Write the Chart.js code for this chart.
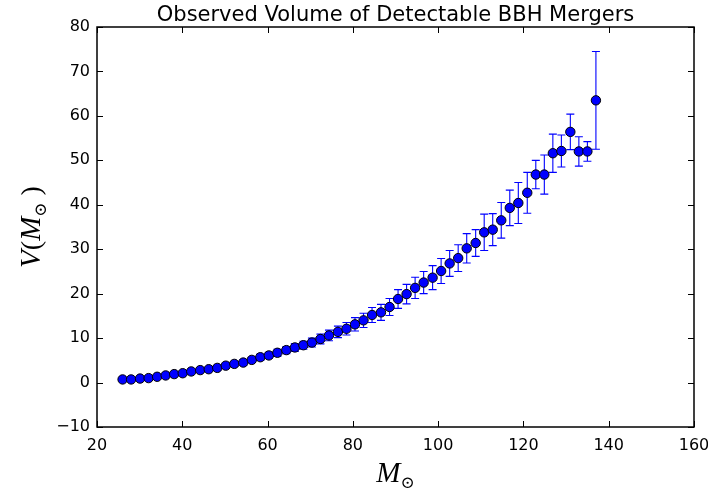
<!DOCTYPE html>
<html>
<head>
<meta charset="utf-8">
<script src="https://cdn.jsdelivr.net/npm/chart.js@4.4.1/dist/chart.umd.min.js"></script>
<style>
  html, body { margin: 0; padding: 0; background: #fff; }
  #wrap { width: 708px; height: 492px; }
</style>
</head>
<body>
<div id="wrap"><canvas id="chart"></canvas></div>
<script>
// total mass (solar masses) of each bin
const mass = [26.0, 28.0, 30.1, 32.1, 34.1, 36.1, 38.1, 40.1, 42.1, 44.2,
              46.2, 48.2, 50.2, 52.2, 54.3, 56.3, 58.3, 60.3, 62.3, 64.4,
              66.4, 68.4, 70.4, 72.4, 74.4, 76.5, 78.5, 80.5, 82.5, 84.5,
              86.6, 88.6, 90.6, 92.6, 94.6, 96.6, 98.7, 100.7, 102.7, 104.7,
              106.7, 108.8, 110.8, 112.8, 114.8, 116.8, 118.8, 120.9, 122.9, 124.9,
              126.9, 128.9, 131.0, 133.0, 135.0, 137.0];
// observed volume V(M)
const volume = [0.7, 0.7, 0.9, 1.0, 1.3, 1.6, 1.9, 2.1, 2.5, 2.8,
                3.0, 3.3, 3.8, 4.2, 4.5, 5.1, 5.7, 6.1, 6.7, 7.3,
                7.9, 8.4, 9.0, 9.8, 10.6, 11.4, 12.1, 13.1, 14.0, 15.2,
                15.8, 17.0, 18.8, 19.9, 21.3, 22.5, 23.6, 25.1, 26.8, 28.0,
                30.2, 31.4, 33.8, 34.4, 36.5, 39.3, 40.4, 42.7, 46.8, 46.8,
                51.6, 52.1, 56.4, 52.0, 52.0, 63.5];
// symmetric error
const volumeErr = [0.3, 0.3, 0.3, 0.3, 0.3, 0.3, 0.3, 0.4, 0.4, 0.4,
                   0.4, 0.5, 0.5, 0.5, 0.6, 0.6, 0.7, 0.7, 0.8, 0.8,
                   0.9, 0.9, 1.0, 1.1, 1.2, 1.3, 1.4, 1.5, 1.6, 1.7,
                   1.8, 1.9, 2.1, 2.2, 2.4, 2.5, 2.7, 2.8, 2.9, 3.0,
                   3.3, 3.0, 4.1, 3.6, 4.0, 4.0, 4.6, 4.6, 3.2, 4.4,
                   4.3, 3.6, 4.0, 3.3, 2.2, 11.0];
const xTicks = [20, 40, 60, 80, 100, 120, 140, 160];
const yTicks = [-10, 0, 10, 20, 30, 40, 50, 60, 70, 80];

const points = mass.map((m, i) => ({x: m, y: volume[i]}));

// vertical error bars with caps, under the markers
const errorBars = {
  id: 'errorBars',
  beforeDatasetsDraw(chart) {
    const {ctx, scales: {x, y}} = chart;
    ctx.save();
    ctx.strokeStyle = '#0000ff';
    ctx.lineWidth = 1.1;
    mass.forEach((m, i) => {
      const px = x.getPixelForValue(m);
      const top = y.getPixelForValue(volume[i] + volumeErr[i]);
      const bot = y.getPixelForValue(volume[i] - volumeErr[i]);
      ctx.beginPath();
      ctx.moveTo(px, top); ctx.lineTo(px, bot);
      ctx.moveTo(px - 4, top); ctx.lineTo(px + 4, top);
      ctx.moveTo(px - 4, bot); ctx.lineTo(px + 4, bot);
      ctx.stroke();
    });
    ctx.restore();
  }
};

// matplotlib-like box with inward ticks on all sides
const frame = {
  id: 'frame',
  afterDraw(chart) {
    const {ctx, chartArea: a, scales: {x, y}} = chart;
    ctx.save();
    ctx.strokeStyle = '#000';
    ctx.lineWidth = 1;
    ctx.beginPath();
    xTicks.forEach(t => {
      const px = Math.round(x.getPixelForValue(t)) + 0.5;
      ctx.moveTo(px, a.bottom); ctx.lineTo(px, a.bottom - 6);
      ctx.moveTo(px, a.top); ctx.lineTo(px, a.top + 6);
    });
    yTicks.forEach(t => {
      const py = Math.round(y.getPixelForValue(t)) + 0.5;
      ctx.moveTo(a.left, py); ctx.lineTo(a.left + 6, py);
      ctx.moveTo(a.right, py); ctx.lineTo(a.right - 6, py);
    });
    ctx.stroke();
    ctx.lineWidth = 1.5;
    ctx.strokeRect(a.left, a.top, a.right - a.left, a.bottom - a.top);
    ctx.restore();
  }
};

// draws math-ish text parts centred on (0,0)
function drawParts(ctx, parts) {
  let w = 0;
  parts.forEach(p => { ctx.font = p.font; p.w = ctx.measureText(p.text).width; w += p.w; });
  let cx = -w / 2;
  parts.forEach(p => {
    ctx.font = p.font;
    ctx.fillText(p.text, cx, p.dy || 0);
    cx += p.w;
  });
}

const serifIt = 'italic 29px "Liberation Serif", "DejaVu Serif", serif';
const serif = '28px "Liberation Serif", "DejaVu Serif", serif';
const sub = '17px "DejaVu Serif", serif';

const labels = {
  id: 'labels',
  afterDraw(chart) {
    const {ctx, chartArea: a} = chart;
    const cx = (a.left + a.right) / 2;
    const cy = (a.top + a.bottom) / 2;
    ctx.save();
    ctx.fillStyle = '#000';
    ctx.textAlign = 'center';
    ctx.textBaseline = 'alphabetic';
    ctx.font = '21px "DejaVu Sans"';
    ctx.fillText('Observed Volume of Detectable BBH Mergers', cx, 21);

    ctx.textAlign = 'left';
    ctx.save();
    ctx.translate(cx, 482);
    drawParts(ctx, [
      {text: 'M', font: serifIt},
      {text: '\u2299', font: sub, dy: 6}
    ]);
    ctx.restore();

    ctx.save();
    ctx.translate(40, cy);
    ctx.rotate(-Math.PI / 2);
    drawParts(ctx, [
      {text: 'V', font: serifIt},
      {text: '(', font: serif},
      {text: 'M', font: serifIt},
      {text: '\u2299', font: sub, dy: 6},
      {text: ' )', font: serif}
    ]);
    ctx.restore();
    ctx.restore();
  }
};

const minus = v => String(v).replace('-', '\u2212');

new Chart(document.getElementById('chart'), {
  type: 'scatter',
  data: {
    datasets: [{
      data: points,
      backgroundColor: '#0000ff',
      borderColor: '#000',
      pointBorderWidth: 1,
      pointRadius: 4.7,
      showLine: false
    }]
  },
  options: {
    responsive: true,
    maintainAspectRatio: false,
    animation: false,
    layout: {padding: {left: 0, right: 14, top: 27, bottom: 0}},
    plugins: {legend: {display: false}, tooltip: {enabled: false}},
    scales: {
      x: {
        type: 'linear', min: 20, max: 160,
        ticks: {stepSize: 20, color: '#000', padding: 9, font: {family: 'DejaVu Sans', size: 16}, callback: minus},
        grid: {display: false, drawTicks: false},
        border: {display: false},
        afterFit(s) { s.height = 65; s.paddingLeft = 0; s.paddingRight = 0; }
      },
      y: {
        type: 'linear', min: -10, max: 80,
        ticks: {stepSize: 10, color: '#000', padding: 7, font: {family: 'DejaVu Sans', size: 16}, callback: minus},
        grid: {display: false, drawTicks: false},
        border: {display: false},
        afterFit(s) { s.width = 97; s.paddingTop = 0; s.paddingBottom = 0; }
      }
    }
  },
  plugins: [errorBars, frame, labels]
});
</script>
</body>
</html>
